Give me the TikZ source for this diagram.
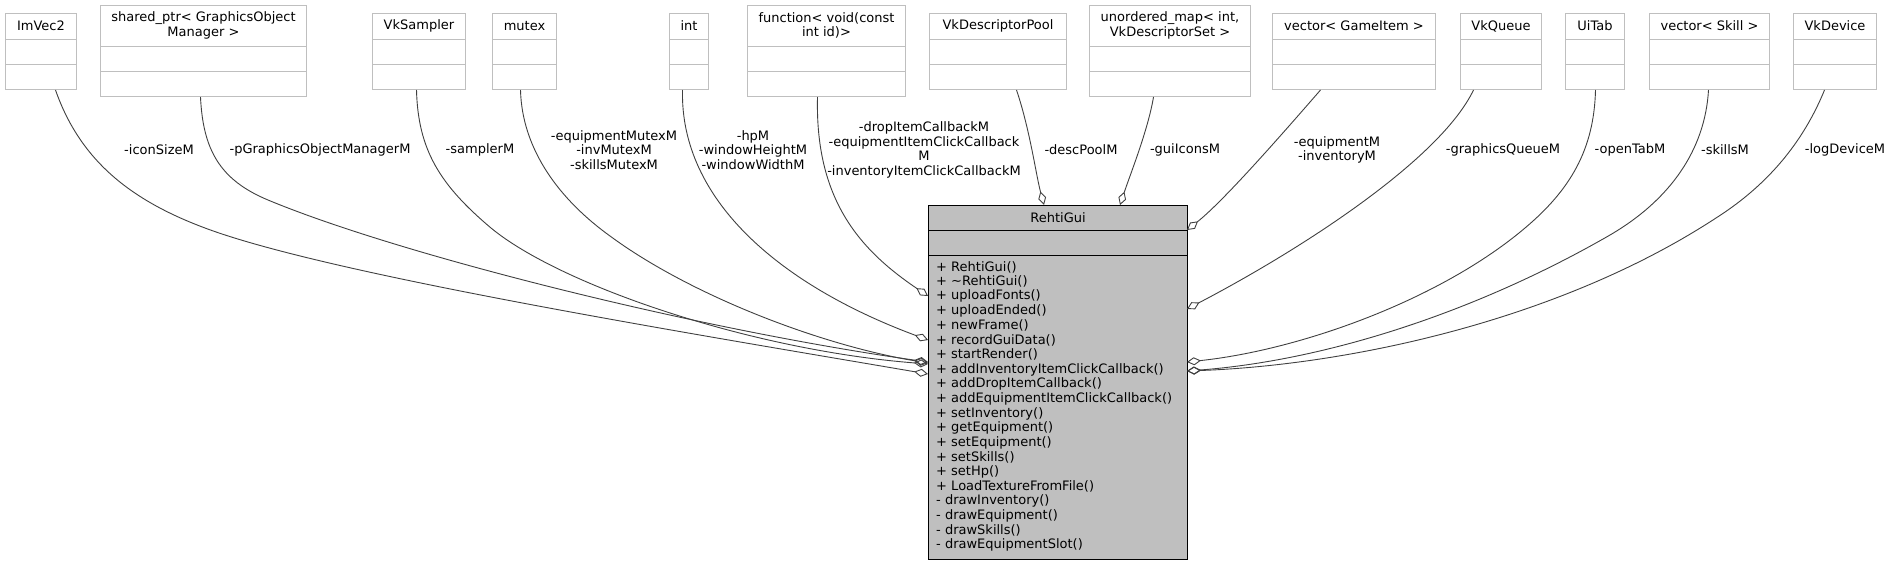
\documentclass[tikz,border=0pt]{standalone}
\usepackage{fontspec}
\setmainfont{DejaVu Sans}
\usetikzlibrary{arrows.meta,calc}
\definecolor{grey75}{HTML}{BFBFBF}
\definecolor{grey25}{HTML}{404040}
\tikzset{
  txt/.style={font=\fontsize{13}{14.65}\selectfont, text=black, inner sep=0pt},
  clsbox/.style={draw=grey75, line width=1pt, fill=white, anchor=north west, inner sep=0pt},
  sepline/.style={draw=grey75, line width=1pt},
  mainbox/.style={draw=black, fill=grey75, line width=1pt, anchor=north west, inner sep=0pt},
  edge/.style={draw=grey25, line width=0.9pt, -{Diamond[open, length=14pt, width=8pt]}},
  lbl/.style={txt, align=center},
}
\newcommand{\umlbox}[6]{%
  \node[clsbox, minimum width={#3pt-#2pt}, minimum height={#5pt+50pt}] (#1) at (#2,#4) {};
  \node[txt, align=center] (#1t) at ($(#1.north)+(0,#5/2)$) {#6};
  \draw[sepline] ($(#1.north west)+(0,#5)$) -- ($(#1.north east)+(0,#5)$);
  \draw[sepline] ($(#1.north west)+(0,#5+25)$) -- ($(#1.north east)+(0,#5+25)$);
}
\begin{document}
\begin{tikzpicture}[x=1pt, y=-1pt]
\useasboundingbox (0,0) rectangle (1898,565);
% top classes
\umlbox{imvec}{5}{76}{13}{26}{ImVec2}
\umlbox{sptr}{100}{306}{5}{41}{shared\_ptr< GraphicsObject\\Manager >}
\umlbox{sampler}{372}{465}{13}{26}{VkSampler}
\umlbox{mutex}{492}{556}{13}{26}{mutex}
\umlbox{int}{669}{708}{13}{26}{int}
\umlbox{func}{747}{905}{5}{41}{function< void(const\\int id)>}
\umlbox{pool}{929}{1066}{13}{26}{VkDescriptorPool}
\umlbox{umap}{1089}{1250}{5}{41}{unordered\_map< int,\\VkDescriptorSet >}
\umlbox{gitem}{1272}{1435}{13}{26}{vector< GameItem >}
\umlbox{queue}{1460}{1541}{13}{26}{VkQueue}
\umlbox{uitab}{1565}{1624}{13}{26}{UiTab}
\umlbox{skill}{1649}{1769}{13}{26}{vector< Skill >}
\umlbox{device}{1793}{1876}{13}{26}{VkDevice}
% main class
\node[mainbox, minimum width=259pt, minimum height=354pt] (main) at (928,205) {};
\node[txt] (maint) at ($(main.north)+(0,12.5)$) {RehtiGui};
\draw[black, line width=1pt] ($(main.north west)+(0,25)$) -- ($(main.north east)+(0,25)$);
\draw[black, line width=1pt] ($(main.north west)+(0,50)$) -- ($(main.north east)+(0,50)$);
\foreach \m [count=\i] in {{+ RehtiGui()},{+ \textasciitilde RehtiGui()},{+ uploadFonts()},{+ uploadEnded()},{+ newFrame()},{+ recordGuiData()},{+ startRender()},{+ addInventoryItemClickCallback()},{+ addDropItemCallback()},{+ addEquipmentItemClickCallback()},{+ setInventory()},{+ getEquipment()},{+ setEquipment()},{+ setSkills()},{+ setHp()},{+ LoadTextureFromFile()},{- drawInventory()},{- drawEquipment()},{- drawSkills()},{- drawEquipmentSlot()}}
  \node[txt, anchor=west] (m\i) at (936,252.35+14.65*\i) {\m};
% end points on main box
\coordinate (eImVec) at (928,374);
\coordinate (eSptr) at (928,362);
\coordinate (eSampler) at (928,364);
\coordinate (eMutex) at (928,363);
\coordinate (eInt) at (928,340);
\coordinate (eFunc) at (928,296);
\coordinate (ePool) at (1044,205);
\coordinate (eUmap) at (1120,205);
\coordinate (eGitem) at (1187,230);
\coordinate (eQueue) at (1187,309);
\coordinate (eUitab) at (1187,362);
\coordinate (eSkill) at (1187,371);
\coordinate (eDevice) at (1187,371);
% edges
\draw[edge] ([xshift=14.5pt]imvec.south) .. controls (80,160) and (130,200) .. (205,228) .. controls (330,275) and (700,335) .. (eImVec);
\draw[edge] ([xshift=-3pt]sptr.south) .. controls (203,150) and (220,180) .. (268,200) .. controls (400,255) and (700,330) .. (eSptr);
\draw[edge] ([xshift=-2.5pt]sampler.south) .. controls (418,150) and (440,185) .. (491,228) .. controls (560,285) and (750,350) .. (eSampler);
\draw[edge] ([xshift=-4pt]mutex.south) .. controls (522,150) and (560,200) .. (610,236) .. controls (690,295) and (820,345) .. (eMutex);
\draw[edge] ([xshift=-6.5pt]int.south) .. controls (680,200) and (780,285) .. (eInt);
\draw[edge] ([xshift=-9pt]func.south) .. controls (815,200) and (860,250) .. (eFunc);
\draw[edge] ([xshift=18.5pt]pool.south) .. controls (1030,130) and (1036,175) .. (ePool);
\draw[edge] ([xshift=-16.5pt]umap.south) .. controls (1148,130) and (1130,175) .. (eUmap);
\draw[edge] ([xshift=-33.5pt]gitem.south) .. controls (1290,125) and (1225,200) .. (eGitem);
\draw[edge] ([xshift=-27.5pt]queue.south) .. controls (1440,160) and (1300,250) .. (eQueue);
\draw[edge] ([xshift=0.5pt]uitab.south) .. controls (1594,150) and (1570,190) .. (1525,228) .. controls (1440,300) and (1300,350) .. (eUitab);
\draw[edge] ([xshift=-1pt]skill.south) .. controls (1705,150) and (1670,200) .. (1610,235) .. controls (1480,310) and (1330,360) .. (eSkill);
\draw[edge] ([xshift=-10.5pt]device.south) .. controls (1800,150) and (1760,190) .. (1716,218) .. controls (1560,320) and (1350,365) .. (eDevice);
% edge labels
\node[lbl] (l1) at (159,150) {-iconSizeM};
\node[lbl] (l2) at (320,150) {-pGraphicsObjectManagerM};
\node[lbl] (l3) at (480,150) {-samplerM};
\node[lbl] (l4) at (614,150) {-equipmentMutexM\\-invMutexM\\-skillsMutexM};
\node[lbl] (l5) at (753,150) {-hpM\\-windowHeightM\\-windowWidthM};
\node[lbl] (l6) at (924,150) {-dropItemCallbackM\\-equipmentItemClickCallback\\M\\-inventoryItemClickCallbackM};
\node[lbl] (l7) at (1081,150) {-descPoolM};
\node[lbl] (l8) at (1185,150) {-guiIconsM};
\node[lbl] (l9) at (1337,150) {-equipmentM\\-inventoryM};
\node[lbl] (l10) at (1503,150) {-graphicsQueueM};
\node[lbl] (l11) at (1630,150) {-openTabM};
\node[lbl] (l12) at (1725,150) {-skillsM};
\node[lbl] (l13) at (1845,150) {-logDeviceM};
\end{tikzpicture}
\end{document}
